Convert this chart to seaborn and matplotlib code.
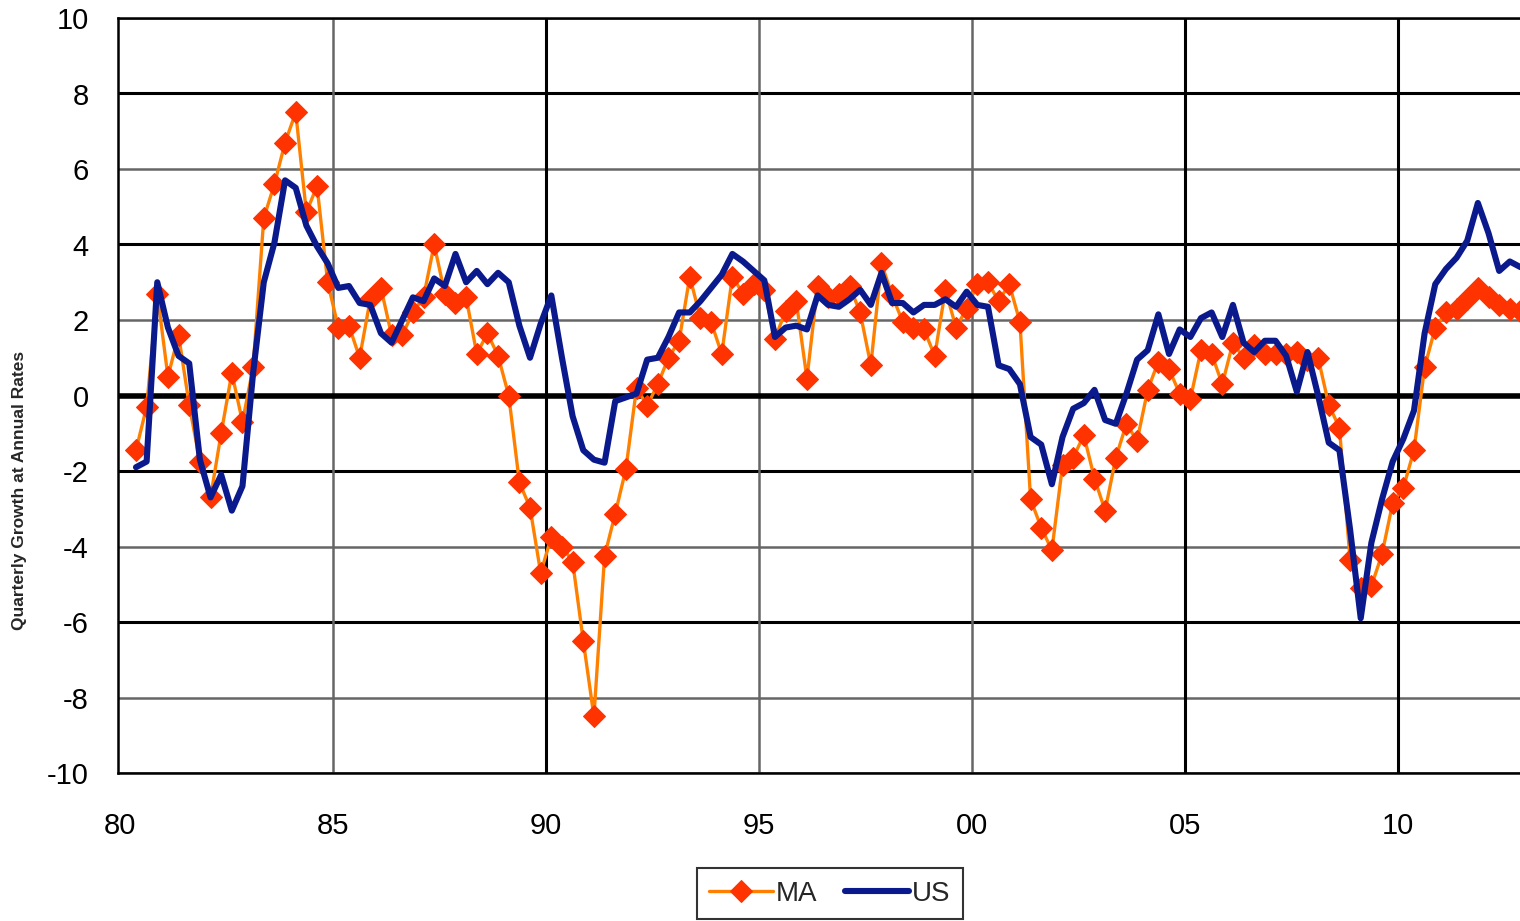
import numpy as np
import pandas as pd
import seaborn as sns
import matplotlib.pyplot as plt

# quarterly growth at annual rates, 1980Q2 .. 2012Q4
ma = [-1.45, -0.3, 2.7, 0.5, 1.6, -0.25, -1.75, -2.7, -1.0, 0.6, -0.7, 0.75,
      4.7, 5.6, 6.7, 7.5, 4.85, 5.55, 3.0, 1.8, 1.85, 1.0, 2.55, 2.85,
      1.6, 1.6, 2.2, 2.6, 4.0, 2.7, 2.45, 2.6, 1.1, 1.65, 1.05, 0.0,
      -2.3, -2.97, -4.7, -3.75, -4.0, -4.4, -6.5, -8.5, -4.25, -3.13, -1.95, 0.2,
      -0.27, 0.3, 1.0, 1.45, 3.15, 2.05, 1.95, 1.1, 3.15, 2.7, 2.95, 2.8,
      1.5, 2.25, 2.5, 0.45, 2.9, 2.6, 2.7, 2.9, 2.2, 0.8, 3.5, 2.65,
      1.95, 1.8, 1.75, 1.05, 2.8, 1.8, 2.3, 2.95, 3.0, 2.5, 2.95, 1.95,
      -2.75, -3.5, -4.1, -1.85, -1.65, -1.05, -2.2, -3.05, -1.65, -0.75, -1.2, 0.15,
      0.9, 0.7, 0.05, -0.1, 1.2, 1.1, 0.3, 1.4, 1.0, 1.35, 1.1, 1.1,
      1.1, 1.15, 0.95, 1.0, -0.25, -0.85, -4.35, -5.1, -5.05, -4.2, -2.85, -2.45,
      -1.45, 0.75, 1.8, 2.2, 2.3, 2.55, 2.85, 2.6, 2.4, 2.3, 2.25]
us = [-1.9, -1.75, 3.0, 1.8, 1.05, 0.85, -1.7, -2.7, -2.1, -3.05, -2.4, 0.6,
      3.0, 4.05, 5.7, 5.5, 4.5, 3.95, 3.5, 2.85, 2.9, 2.45, 2.4, 1.65,
      1.4, 2.0, 2.6, 2.5, 3.1, 2.9, 3.75, 3.0, 3.3, 2.95, 3.25, 3.0,
      1.85, 1.0, 1.9, 2.65, 1.0, -0.55, -1.45, -1.7, -1.78, -0.15, -0.05, 0.05,
      0.95, 1.0, 1.55, 2.2, 2.2, 2.5, 2.85, 3.2, 3.75, 3.55, 3.3, 3.05,
      1.55, 1.8, 1.85, 1.75, 2.65, 2.4, 2.35, 2.55, 2.8, 2.4, 3.25, 2.45,
      2.45, 2.2, 2.4, 2.4, 2.55, 2.35, 2.75, 2.4, 2.35, 0.8, 0.7, 0.3,
      -1.1, -1.3, -2.35, -1.1, -0.35, -0.2, 0.15, -0.65, -0.75, 0.05, 0.95, 1.2,
      2.15, 1.1, 1.75, 1.55, 2.05, 2.2, 1.55, 2.4, 1.4, 1.15, 1.45, 1.45,
      1.05, 0.1, 1.15, 0.0, -1.25, -1.45, -3.55, -5.9, -3.9, -2.75, -1.75, -1.15,
      -0.4, 1.65, 2.95, 3.35, 3.65, 4.1, 5.1, 4.3, 3.3, 3.55, 3.4]
first_quarter = 1  # 0 = 1980Q1
year_ticks = [1980, 1985, 1990, 1995, 2000, 2005, 2010]
year_labels = ["80", "85", "90", "95", "00", "05", "10"]
y_ticks = list(range(-10, 11, 2))

t = 1980 + (np.arange(len(ma)) + first_quarter + 0.5) / 4
df = pd.DataFrame({"t": t, "MA": ma, "US": us})

sns.set_theme(style="white")
plt.rcParams['font.family'] = ['Liberation Sans', 'DejaVu Sans']
plt.rcParams['axes.unicode_minus'] = False

fig = plt.figure(figsize=(15.2, 9.21), dpi=100)
ax = fig.add_axes([118 / 1520, 1 - 773 / 921, 1402 / 1520, 755 / 921])

# grid lines (resampled look: some solid black, some grey)
for v in y_ticks:
    if v in (8, 4, -2, -6):
        ax.axhline(v, color="black", lw=2.2, zorder=1)
    elif v != 0:
        ax.axhline(v, color="#666666", lw=1.8, zorder=1)
for v in year_ticks[1:]:
    if v in (1990, 2005, 2010):
        ax.axvline(v, color="black", lw=2.2, zorder=1)
    else:
        ax.axvline(v, color="#666666", lw=1.8, zorder=1)
ax.axhline(0, color="black", lw=4, zorder=2)

sns.lineplot(data=df, x="t", y="MA", ax=ax, color="#FF8000", lw=2.4,
             marker="D", markersize=11, markerfacecolor="#FF3300",
             markeredgecolor="#FF3300", label="MA", zorder=3)
sns.lineplot(data=df, x="t", y="US", ax=ax, color="#0A1A8C", lw=4.4,
             label="US", zorder=4)

ax.set_xlim(1980 - 2 / 42.6, 1980 + 1400 / 42.6)
ax.set_ylim(-10, 10)
ax.set_xticks(year_ticks)
ax.set_xticklabels(year_labels)
ax.set_yticks(y_ticks)
ax.tick_params(axis="x", labelsize=21, pad=28, length=0, labelcolor="black")
ax.tick_params(axis="y", labelsize=21, pad=21, length=0, labelcolor="black")
ax.set_xlabel("")
ax.set_ylabel("")
for s in ("left", "bottom", "top"):
    ax.spines[s].set_color("black")
    ax.spines[s].set_linewidth(1.8)
ax.spines["right"].set_visible(False)

fig.text(20 / 1520, 1 - 490 / 921, "Quarterly Growth at Annual Rates",
         rotation=90, ha="center", va="center", fontsize=12.5, fontweight="heavy")

h, l = ax.get_legend_handles_labels()
ax.get_legend().remove()
leg = fig.legend(h, l, loc="upper center", bbox_to_anchor=(830 / 1520, 1 - 868 / 921),
                 ncol=2, fontsize=20, frameon=True, fancybox=False, edgecolor="black",
                 handlelength=2.3, columnspacing=1.0, handletextpad=0.1,
                 borderpad=0.45, borderaxespad=0)
leg.get_frame().set_linewidth(1.5)

fig.savefig("out.png", dpi=100)
